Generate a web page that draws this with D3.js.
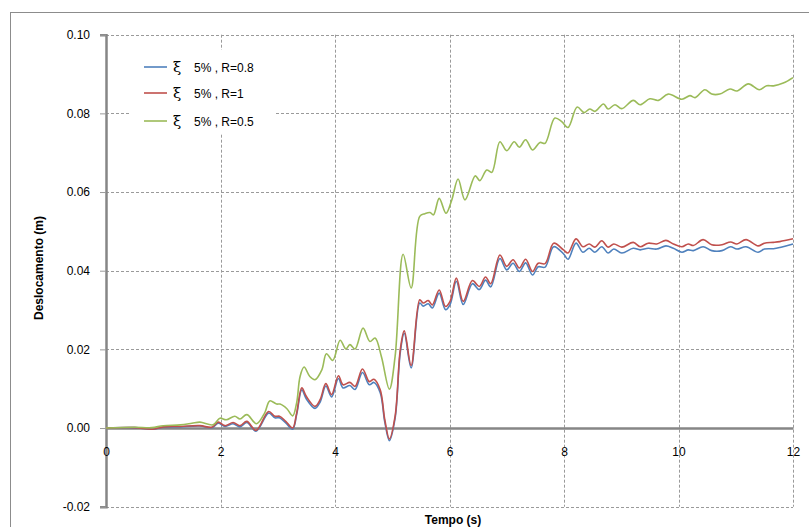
<!DOCTYPE html>
<html>
<head>
<meta charset="utf-8">
<script src="https://cdn.jsdelivr.net/npm/d3@7"></script>
<style>
  html, body { margin: 0; padding: 0; background: #fff; }
  svg { display: block; font-family: "Liberation Sans", Arial, sans-serif; }
</style>
</head>
<body>
<svg id="chart" width="809" height="527"></svg>
<script>
// Time samples (s) shared by the R=0.8 and R=1 responses
const timeRB = [0, 0.5, 0.82, 1.0, 1.3, 1.64, 1.85, 1.96, 2.08, 2.22, 2.34, 2.46, 2.62, 2.84, 2.95, 3.03, 3.14, 3.26, 3.33, 3.42,
  3.50, 3.65, 3.74, 3.84, 3.94, 4.06, 4.14, 4.26, 4.35, 4.48, 4.60, 4.68, 4.79, 4.87, 4.95, 5.05, 5.14, 5.21, 5.33, 5.48,
  5.54, 5.63, 5.70, 5.82, 5.93, 6.01, 6.12, 6.24, 6.40, 6.52, 6.63, 6.72, 6.88, 7.00, 7.11, 7.22, 7.33, 7.45, 7.55, 7.67,
  7.82, 7.99, 8.07, 8.21, 8.33, 8.44, 8.54, 8.66, 8.77, 8.87, 9.01, 9.21, 9.33, 9.47, 9.62, 9.78, 9.91, 10.06, 10.17, 10.26,
  10.43, 10.58, 10.76, 10.91, 11.02, 11.18, 11.39, 11.50, 11.66, 11.77, 12.0];

// Displacement (m), ξ 5%, R=1
const dispR10 = [0, 0.0001, -0.0003, 0.0003, 0.0004, 0.0006, 0.0002, 0.0015, 0.0006, 0.0014, 0.0006, 0.0017, -0.0006, 0.0042, 0.0030, 0.0030, 0.0017, 0.0000, 0.0038, 0.0102,
  0.0080, 0.0055, 0.0072, 0.0113, 0.0085, 0.0133, 0.0110, 0.0116, 0.0106, 0.0150, 0.0118, 0.0124, 0.0097, 0.0021, -0.0028, 0.0030, 0.0199, 0.0247, 0.0159, 0.0326,
  0.0318, 0.0324, 0.0313, 0.0351, 0.0309, 0.0322, 0.0381, 0.0322, 0.0375, 0.0360, 0.0384, 0.0367, 0.0440, 0.0411, 0.0428, 0.0407, 0.0429, 0.0398, 0.0419, 0.0418,
  0.0470, 0.0453, 0.0445, 0.0481, 0.0461, 0.0468, 0.0460, 0.0476, 0.0460, 0.0468, 0.0460, 0.0472, 0.0461, 0.0470, 0.0468, 0.0477, 0.0468, 0.0461, 0.0468, 0.0464,
  0.0479, 0.0466, 0.0466, 0.0473, 0.0468, 0.0479, 0.0463, 0.0470, 0.0472, 0.0474, 0.0481];

// Displacement (m), ξ 5%, R=0.8
const dispR08 = [0, 0.0001, -0.0003, 0.0002, 0.0003, 0.0005, 0.0001, 0.0012, 0.0004, 0.0011, 0.0003, 0.0014, -0.0008, 0.0038, 0.0026, 0.0026, 0.0013, -0.0003, 0.0034, 0.0097,
  0.0074, 0.0050, 0.0066, 0.0107, 0.0079, 0.0126, 0.0102, 0.0108, 0.0098, 0.0141, 0.0110, 0.0116, 0.0090, 0.0015, -0.0032, 0.0025, 0.0192, 0.0241, 0.0153, 0.0318,
  0.0310, 0.0316, 0.0305, 0.0343, 0.0301, 0.0314, 0.0373, 0.0314, 0.0367, 0.0352, 0.0376, 0.0359, 0.0431, 0.0402, 0.0419, 0.0398, 0.0420, 0.0389, 0.0410, 0.0409,
  0.0461, 0.0443, 0.0429, 0.0470, 0.0447, 0.0457, 0.0447, 0.0461, 0.0445, 0.0455, 0.0445, 0.0457, 0.0453, 0.0457, 0.0455, 0.0463, 0.0457, 0.0447, 0.0453, 0.0451,
  0.0461, 0.0451, 0.0451, 0.0461, 0.0455, 0.0461, 0.0447, 0.0455, 0.0456, 0.0459, 0.0468];

// Time samples (s) and displacement (m), ξ 5%, R=0.5
const timeR05 = [0, 0.5, 0.8, 1.0, 1.3, 1.5, 1.64, 1.87, 1.99, 2.10, 2.25, 2.34, 2.46, 2.63, 2.77, 2.86, 2.98, 3.04, 3.16, 3.26,
  3.33, 3.39, 3.46, 3.56, 3.65, 3.77, 3.85, 3.96, 4.09, 4.19, 4.26, 4.35, 4.49, 4.61, 4.70, 4.81, 4.95, 5.05, 5.19, 5.33,
  5.48, 5.57, 5.66, 5.72, 5.82, 5.94, 6.04, 6.15, 6.27, 6.45, 6.53, 6.65, 6.74, 6.88, 7.00, 7.13, 7.22, 7.33, 7.45, 7.58,
  7.67, 7.84, 7.96, 8.07, 8.23, 8.35, 8.45, 8.54, 8.69, 8.77, 8.89, 9.01, 9.21, 9.33, 9.50, 9.65, 9.82, 10.06, 10.20, 10.29,
  10.46, 10.58, 10.72, 10.90, 11.02, 11.22, 11.41, 11.54, 11.66, 11.83, 12.0];
const dispR05 = [0, 0.0002, 0.0001, 0.0006, 0.0008, 0.0012, 0.0015, 0.0008, 0.0025, 0.0021, 0.0030, 0.0023, 0.0034, 0.0011, 0.0038, 0.0069, 0.0061, 0.0061, 0.0049, 0.0031,
  0.0064, 0.0131, 0.0155, 0.0131, 0.0123, 0.0148, 0.0189, 0.0172, 0.0223, 0.0201, 0.0212, 0.0201, 0.0254, 0.0220, 0.0229, 0.0182, 0.0099, 0.0182, 0.0442, 0.0356,
  0.0538, 0.0545, 0.0548, 0.0542, 0.0584, 0.0546, 0.0580, 0.0633, 0.0580, 0.0641, 0.0629, 0.0656, 0.0650, 0.0728, 0.0705, 0.0728, 0.0714, 0.0733, 0.0707, 0.0726,
  0.0724, 0.0788, 0.0779, 0.0764, 0.0816, 0.0802, 0.0811, 0.0805, 0.0824, 0.0811, 0.0822, 0.0812, 0.0833, 0.0822, 0.0837, 0.0833, 0.0849, 0.0836, 0.0845, 0.0840,
  0.0860, 0.0849, 0.0849, 0.0862, 0.0857, 0.0875, 0.0860, 0.0870, 0.0870, 0.0877, 0.0891];

// Axis ticks and labels
const xTicks = [0, 2, 4, 6, 8, 10, 12];
const yTicks = [-0.02, 0, 0.02, 0.04, 0.06, 0.08, 0.10];
const seriesNames = ["5% , R=0.8", "5% , R=1", "5% , R=0.5"];
const seriesColors = ["#4F81BD", "#C0504D", "#9BBB59"];
const xTitle = "Tempo (s)";
const yTitle = "Deslocamento (m)";

const svg = d3.select("#chart");

// outer chart frame
svg.append("rect")
  .attr("x", 10.5).attr("y", 12.5)
  .attr("width", 820).attr("height", 540)
  .attr("fill", "#fff").attr("stroke", "#8c8c8c").attr("stroke-width", 1);

const x = d3.scaleLinear().domain([0, 12]).range([106, 793]);
const y = d3.scaleLinear().domain([-0.02, 0.10]).range([506.7, 34.7]);

// dashed grid
const grid = svg.append("g").attr("stroke", "#9a9a9a").attr("stroke-width", 1)
  .attr("stroke-dasharray", "3,2").attr("fill", "none");
grid.selectAll("line.h").data(yTicks).join("line")
  .attr("class", "h")
  .attr("x1", x(0)).attr("x2", x(12))
  .attr("y1", d => Math.round(y(d)) + 0.5).attr("y2", d => Math.round(y(d)) + 0.5);
grid.selectAll("line.v").data(xTicks.filter(d => d > 0)).join("line")
  .attr("class", "v")
  .attr("y1", y(0.10)).attr("y2", y(-0.02))
  .attr("x1", d => Math.round(x(d)) + 0.5).attr("x2", d => Math.round(x(d)) + 0.5);

// y axis with outside ticks; plain hyphen for negatives
const fmtY = v => d3.format(".2f")(v).replace("\u2212", "-");
const yAxis = svg.append("g").attr("transform", `translate(${x(0)},0)`)
  .call(d3.axisLeft(y).tickValues(yTicks).tickFormat(fmtY).tickSize(6).tickPadding(10));
yAxis.select(".domain").attr("stroke", "#868686").attr("stroke-width", 2.5);
yAxis.selectAll(".tick line").attr("stroke", "#9a9a9a");
yAxis.selectAll(".tick text").attr("font-size", 12).attr("fill", "#000")
  .attr("font-family", "Liberation Sans, Arial, sans-serif");

// x axis drawn along zero displacement, labels below it
const xAxis = svg.append("g").attr("transform", `translate(0,${y(0)})`)
  .call(d3.axisBottom(x).tickValues(xTicks).tickFormat(d3.format("d")).tickSize(0).tickPadding(19));
xAxis.select(".domain").attr("stroke", "#868686").attr("stroke-width", 2.5);
xAxis.selectAll(".tick text").attr("font-size", 12).attr("fill", "#000")
  .attr("font-family", "Liberation Sans, Arial, sans-serif");

// response curves
const line = d3.line()
  .x(d => x(d[0]))
  .y(d => y(d[1]))
  .curve(d3.curveCatmullRom.alpha(0.5));

const series = [
  d3.zip(timeRB, dispR08),
  d3.zip(timeRB, dispR10),
  d3.zip(timeR05, dispR05)
];

svg.append("g").selectAll("path").data(series).join("path")
  .attr("d", line)
  .attr("fill", "none")
  .attr("stroke", (d, i) => seriesColors[i])
  .attr("stroke-width", 1.6)
  .attr("stroke-linejoin", "round");

// legend
const legend = svg.append("g");
legend.append("rect")
  .attr("x", 130).attr("y", 50).attr("width", 145).attr("height", 83)
  .attr("fill", "#fff");
const rowY = [67, 93, 121];
const rows = legend.selectAll("g.row").data(seriesNames).join("g")
  .attr("class", "row")
  .attr("transform", (d, i) => `translate(0,${rowY[i]})`);
rows.append("line")
  .attr("x1", 144).attr("x2", 167).attr("y1", 0).attr("y2", 0)
  .attr("stroke", (d, i) => seriesColors[i]).attr("stroke-width", 1.6);
rows.append("text")
  .attr("x", 173).attr("y", 5)
  .attr("font-size", 15).attr("fill", "#000")
  .attr("font-family", "DejaVu Serif, serif")
  .text("ξ");
rows.append("text")
  .attr("x", 194).attr("y", 4.5)
  .attr("font-size", 12).attr("fill", "#000")
  .text(d => d);

// axis titles
svg.append("text")
  .attr("x", 453).attr("y", 524)
  .attr("text-anchor", "middle")
  .attr("font-size", 12).attr("font-weight", "bold")
  .text(xTitle);
svg.append("text")
  .attr("transform", "translate(43,268) rotate(-90)")
  .attr("text-anchor", "middle")
  .attr("font-size", 12).attr("font-weight", "bold")
  .text(yTitle);
</script>
</body>
</html>
